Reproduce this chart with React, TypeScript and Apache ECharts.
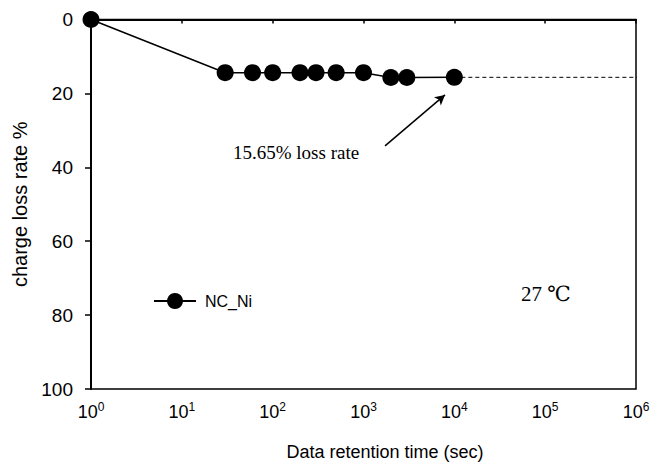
import React, { useEffect, useRef } from "react";
import * as echarts from "echarts";

const retentionTimes = [1, 30, 60, 100, 200, 300, 500, 1000, 2000, 3000, 10000];
const lossRates = [0, 14.4, 14.4, 14.4, 14.4, 14.4, 14.4, 14.4, 15.7, 15.7, 15.65];
const extensionX = [10000, 1100000];
const extensionY = [15.65, 15.65];
const arrowFrom = [1726, 34.2];
const arrowTo = [7890, 20.4];
const yTicks = [0, 20, 40, 60, 80, 100];
const seriesName = "NC_Ni";
const annotationText = "15.65% loss rate";
const temperatureText = "27 ℃";

export default function App() {
  const ref = useRef<HTMLDivElement>(null);
  useEffect(() => {
    if (!ref.current) return;
    const chart = echarts.init(ref.current, null, { renderer: "svg" });
    chart.setOption({
      animation: false,
      backgroundColor: "#fff",
      grid: {
        left: 91,
        right: 30,
        top: 19.5,
        bottom: 77,
        show: true,
        borderColor: "#000",
        borderWidth: 1.5,
      },
      legend: {
        data: [seriesName],
        left: 153,
        top: 293,
        padding: 0,
        itemWidth: 42,
        itemHeight: 20,
        textStyle: {
          fontFamily: "Liberation Sans, Arial",
          fontSize: 16,
          color: "#000",
          padding: [0, 0, 0, 4],
        },
      },
      xAxis: {
        type: "log",
        logBase: 10,
        min: 1,
        max: 1000000,
        name: "Data retention time (sec)",
        nameLocation: "middle",
        nameGap: 54,
        nameTextStyle: {
          fontFamily: "Liberation Sans, Arial",
          fontSize: 18,
          color: "#000",
          padding: [0, 0, 0, 43],
        },
        axisLine: { lineStyle: { color: "#000", width: 2 } },
        axisTick: { show: true, inside: false, length: 4, lineStyle: { color: "#000", width: 1.5 } },
        minorTick: { show: false },
        splitLine: { show: false },
        axisLabel: {
          margin: 12,
          color: "#000",
          formatter: (v: number) => `{b|10}{s|${Math.round(Math.log10(v))}}`,
          rich: {
            b: { fontFamily: "Liberation Sans, Arial", fontSize: 18, color: "#000" },
            s: {
              fontFamily: "Liberation Sans, Arial",
              fontSize: 12,
              color: "#000",
              verticalAlign: "top",
              padding: [0, 0, 10, 0],
            },
          },
        },
      },
      yAxis: {
        type: "value",
        inverse: true,
        min: yTicks[0],
        max: yTicks[yTicks.length - 1],
        interval: 20,
        name: "charge loss rate %",
        nameLocation: "middle",
        nameGap: 53,
        nameTextStyle: {
          fontFamily: "Liberation Sans, Arial",
          fontSize: 20,
          color: "#000",
        },
        axisLine: { show: true, lineStyle: { color: "#000", width: 2 } },
        axisTick: { show: true, inside: false, length: 6, lineStyle: { color: "#000", width: 1.5 } },
        splitLine: { show: false },
        axisLabel: {
          margin: 18,
          fontFamily: "Liberation Sans, Arial",
          fontSize: 19,
          color: "#000",
        },
      },
      series: [
        {
          name: seriesName,
          type: "line",
          data: retentionTimes.map((x, i) => [x, lossRates[i]]),
          symbol: "circle",
          symbolSize: 17,
          showAllSymbol: true,
          itemStyle: { color: "#000" },
          lineStyle: { color: "#000", width: 1.5 },
          z: 3,
        },
        {
          name: "extension",
          type: "line",
          data: extensionX.map((x, i) => [x, extensionY[i]]),
          symbol: "none",
          clip: false,
          lineStyle: { color: "#000", width: 1, type: [4, 3] },
          z: 2,
          markLine: {
            silent: true,
            symbol: ["none", "arrow"],
            symbolSize: [8, 10],
            label: { show: false },
            lineStyle: { color: "#000", width: 1.5, type: "solid" },
            data: [[{ coord: arrowFrom }, { coord: arrowTo }]],
          },
        },
      ],
      graphic: [
        {
          type: "text",
          left: 233,
          top: 143,
          style: {
            text: annotationText,
            font: "19px 'Liberation Serif', 'Times New Roman', serif",
            fill: "#000",
          },
        },
        {
          type: "text",
          left: 521,
          top: 283,
          style: {
            text: temperatureText,
            font: "21px 'Liberation Serif', 'DejaVu Serif', serif",
            fill: "#000",
          },
        },
      ],
    });
    return () => chart.dispose();
  }, []);
  return <div ref={ref} style={{ width: 666, height: 466, position: "absolute", left: 0, top: 0 }} />;
}
